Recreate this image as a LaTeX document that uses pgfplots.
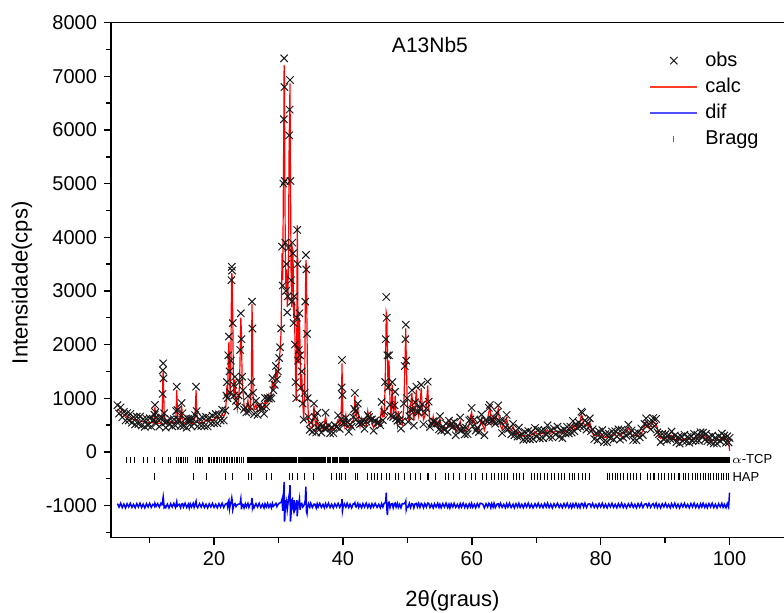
\documentclass[border=0pt]{standalone}
\usepackage{fontspec}
\setmainfont{Liberation Sans}
\usepackage{pgfplots}
\usepackage{pgfplotstable}
\pgfplotsset{compat=1.18}
\pgfplotsset{
  legmark/.style={legend image code/.code={\path[draw=none,fill=none] (0pt,-2pt) rectangle (23pt,2pt); \draw[##1] plot coordinates {(11.5pt,0pt)};}},
}

\pgfplotstableread{
x obs calc dif
5.00 870 800 -965
5.25 715 775 -1030
5.50 830 745 -958
5.75 645 720 -1038
6.00 745 695 -975
6.25 585 675 -1045
6.50 722 657 -968
6.75 585 640 -1028
7.00 707 627 -960
7.25 545 615 -1035
7.50 649 604 -978
7.75 510 595 -1042
8.00 657 587 -965
8.25 520 580 -1030
8.50 658 573 -958
8.75 492 567 -1038
9.00 612 562 -975
9.25 467 557 -1045
9.50 618 553 -968
9.75 494 549 -1028
10.00 626 546 -960
10.25 473 543 -1035
10.50 585 540 -978
10.65 600 560 -985
10.75 690 720 -1010
10.82 874 840 -960
10.90 735 700 -985
11.00 530 560 -1015
11.25 604 534 -965
11.50 472 532 -1030
11.75 615 530 -958
11.90 640 600 -985
12.00 1080 1000 -950
12.05 1520 1380 -880
12.10 1650 1500 -840
12.15 1370 1250 -900
12.25 720 760 -1040
12.40 545 570 -1015
12.50 452 527 -1038
12.75 576 526 -975
13.00 510 600 -1045
13.25 610 545 -968
13.50 475 530 -1028
13.75 608 528 -960
14.00 490 560 -1035
14.10 760 720 -985
14.20 1215 1150 -930
14.30 780 800 -1010
14.40 600 580 -995
14.60 590 545 -978
14.80 485 570 -1042
14.95 910 880 -975
15.10 720 650 -965
15.25 480 540 -1030
15.50 612 527 -958
15.75 450 525 -1038
16.00 610 560 -975
16.15 560 650 -1045
16.30 610 545 -968
16.50 473 528 -1028
16.75 612 532 -960
16.90 530 600 -1035
17.05 685 640 -978
17.20 1215 1150 -920
17.30 760 790 -1015
17.45 475 560 -1042
17.75 610 540 -965
18.00 485 545 -1030
18.25 635 550 -958
18.50 481 556 -1038
18.75 650 600 -975
19.00 475 565 -1045
19.25 640 575 -968
19.50 530 585 -1028
19.75 675 595 -960
20.00 535 605 -1035
20.25 705 660 -978
20.50 535 620 -1042
20.75 700 630 -965
21.00 585 645 -1030
21.25 785 700 -958
21.50 585 660 -1038
21.75 770 720 -975
21.90 1050 980 -965
22.00 1300 1250 -960
22.10 1000 1050 -1020
22.20 1800 1700 -930
22.30 2150 2050 -900
22.40 1500 1600 -1060
22.50 1100 1050 -985
22.60 1700 1600 -950
22.70 3200 3100 -900
22.75 3450 3330 -860
22.80 3380 3280 -900
22.90 2400 2500 -1080
23.00 1250 1300 -1030
23.10 1050 1000 -980
23.25 1400 1350 -965
23.40 950 1000 -1020
23.60 850 800 -985
23.80 1050 1000 -975
23.95 1300 1250 -970
24.05 1900 1850 -960
24.15 2583 2500 -880
24.25 2100 2200 -1070
24.35 1400 1350 -975
24.50 1150 1100 -980
24.65 790 880 -1045
24.85 825 760 -968
25.00 735 790 -1028
25.25 1040 960 -960
25.40 750 820 -1035
25.60 835 790 -978
25.78 1300 1250 -970
25.88 2800 2760 -860
25.95 2300 2350 -1040
26.05 1100 1050 -985
26.20 705 790 -1042
26.50 950 880 -965
26.75 690 750 -1030
27.00 855 770 -958
27.25 805 880 -1038
27.50 830 780 -975
27.75 710 800 -1045
27.90 1005 940 -968
28.10 845 900 -1028
28.30 1000 920 -960
28.50 990 1060 -1035
28.70 1015 970 -978
28.90 995 1080 -1042
29.05 1375 1330 -960
29.20 1150 1180 -1015
29.40 1250 1220 -990
29.60 1600 1550 -960
29.75 1350 1380 -1020
29.90 1500 1460 -985
30.10 1750 1700 -960
30.25 1950 1900 -950
30.40 2300 2250 -940
30.55 3825 3700 -880
30.65 3100 3200 -1100
30.75 5000 4900 -800
30.82 6200 6100 -700
30.87 7336 7212 -560
30.92 6800 6950 -1300
30.98 5050 5200 -1250
31.05 3900 3800 -900
31.15 3000 3050 -1050
31.25 3500 3400 -950
31.35 2600 2700 -1080
31.45 2900 2850 -980
31.55 3800 3700 -880
31.65 5900 5800 -800
31.72 6380 6300 -750
31.78 6932 6870 -620
31.85 5050 5200 -1300
31.95 3200 3350 -1150
32.05 2800 2700 -900
32.15 3900 3800 -880
32.25 3700 3750 -1050
32.35 2400 2500 -1100
32.45 2900 2800 -900
32.55 2000 2100 -1080
32.65 1300 1400 -1050
32.75 1000 950 -980
32.85 2500 2400 -900
32.90 4136 4220 -1200
32.97 3500 3600 -1100
33.05 1700 1650 -950
33.15 1900 1850 -960
33.25 2583 2500 -880
33.35 1800 1900 -1080
33.45 1200 1150 -970
33.60 1500 1450 -960
33.75 900 950 -1030
33.90 600 620 -1010
34.05 1100 1050 -960
34.15 2800 2700 -900
34.25 3670 3580 -650
34.32 3400 3450 -1100
34.42 2200 2300 -1150
34.52 1000 1050 -1020
34.65 650 580 -965
34.85 410 470 -1030
35.00 545 460 -958
35.25 375 450 -1038
35.50 900 860 -975
35.65 650 600 -975
35.85 360 450 -1045
36.00 725 660 -968
36.15 445 500 -1028
36.40 500 420 -960
36.65 360 430 -1035
36.90 485 440 -978
37.10 435 520 -1042
37.30 730 660 -965
37.50 440 500 -1030
37.75 495 410 -958
38.00 345 420 -1038
38.25 460 410 -975
38.50 350 440 -1045
38.75 495 430 -968
39.00 465 520 -1028
39.25 680 600 -960
39.50 430 500 -1035
39.70 605 560 -978
39.80 1200 1150 -960
39.85 1713 1650 -880
39.92 1060 1120 -1100
40.00 535 620 -1042
40.20 550 480 -965
40.45 630 690 -1030
40.65 555 470 -958
40.90 375 450 -1038
41.10 510 460 -975
41.35 470 560 -1045
41.60 645 580 -968
41.75 800 760 -975
41.85 1100 1050 -950
41.95 760 800 -1020
42.05 605 660 -1028
42.30 900 820 -960
42.45 550 620 -1035
42.65 515 470 -978
42.90 535 620 -1042
43.10 580 510 -965
43.35 430 490 -1030
43.60 565 480 -958
43.85 685 760 -1038
44.05 650 600 -975
44.30 600 690 -1045
44.50 605 540 -968
44.75 395 450 -1028
45.00 580 500 -960
45.30 540 610 -1035
45.55 545 500 -978
45.80 495 580 -1042
46.00 930 860 -965
46.20 590 650 -1030
46.40 745 660 -958
46.55 1300 1250 -950
46.65 2100 2000 -900
46.72 2887 2600 -760
46.80 2500 2550 -1050
46.90 1800 1900 -1180
47.00 1200 1150 -960
47.15 1800 1700 -940
47.30 875 950 -1038
47.45 670 620 -975
47.65 1300 1250 -965
47.80 650 740 -1045
48.00 865 800 -968
48.10 1120 1050 -955
48.25 625 680 -1028
48.45 580 500 -960
48.60 690 760 -1035
48.80 595 550 -978
49.00 435 520 -1042
49.20 570 500 -965
49.45 900 850 -970
49.60 1600 1550 -950
49.70 2100 2050 -940
49.75 2370 2300 -920
49.82 1700 1800 -1080
49.95 1000 1050 -1020
50.10 560 620 -1030
50.30 665 580 -958
50.50 785 860 -1038
50.70 1150 1100 -965
50.85 790 740 -975
51.00 490 580 -1045
51.20 925 860 -968
51.40 1216 1160 -960
51.55 745 800 -1028
51.75 740 660 -960
51.95 810 880 -1035
52.15 1250 1190 -960
52.30 885 840 -978
52.50 515 600 -1042
52.70 730 660 -965
52.95 810 870 -1030
53.15 1308 1240 -955
53.30 935 850 -958
53.50 465 540 -1038
53.75 530 480 -975
54.00 570 660 -1045
54.20 565 500 -968
54.45 525 580 -1028
54.70 530 450 -960
54.90 420 490 -1035
55.05 665 620 -978
55.25 395 480 -1042
55.50 470 400 -965
55.75 410 470 -1030
56.00 525 440 -958
56.25 375 450 -1038
56.45 580 530 -975
56.60 490 580 -1045
56.80 525 460 -968
57.05 465 520 -1028
57.25 560 480 -960
57.50 310 380 -1035
57.75 475 430 -978
58.00 415 500 -1042
58.20 640 570 -965
58.40 400 460 -1030
58.65 445 360 -958
58.90 325 400 -1038
59.10 450 400 -975
59.35 330 420 -1045
59.60 585 520 -968
59.80 605 660 -1028
59.97 820 740 -960
60.15 480 550 -1035
60.40 605 560 -978
60.60 395 480 -1042
60.85 450 380 -965
61.10 370 430 -1030
61.30 585 500 -958
61.50 695 620 -962
61.70 550 500 -975
61.95 310 400 -1045
62.20 585 520 -968
62.45 565 620 -1028
62.65 820 740 -960
62.80 875 830 -978
62.95 565 650 -1042
63.10 590 520 -965
63.30 600 660 -1030
63.45 635 550 -958
63.65 525 600 -1038
63.90 730 680 -975
64.10 865 800 -968
64.25 575 630 -1028
64.45 560 480 -960
64.70 350 420 -1035
64.95 575 530 -978
65.20 455 540 -1042
65.40 690 620 -965
65.60 420 480 -1030
65.85 445 360 -958
66.10 325 400 -1038
66.40 520 470 -975
66.60 310 400 -1045
66.85 385 320 -968
67.10 285 340 -1028
67.30 450 370 -960
67.50 290 360 -1035
67.75 335 290 -978
68.00 225 310 -1042
68.25 370 300 -965
68.50 235 295 -1030
68.75 390 305 -958
69.00 235 310 -1038
69.25 365 315 -975
69.50 240 330 -1045
69.80 445 380 -968
70.05 285 340 -1028
70.30 410 330 -960
70.55 250 320 -1035
70.80 395 350 -978
71.05 255 340 -1042
71.30 400 330 -965
71.55 330 390 -1030
71.75 495 410 -958
72.00 265 340 -1038
72.25 400 350 -975
72.50 270 360 -1045
72.75 435 370 -968
73.00 325 380 -1028
73.30 470 390 -960
73.55 280 350 -1035
73.80 395 350 -978
74.05 255 340 -1042
74.30 420 350 -965
74.55 340 400 -1030
74.80 465 380 -958
75.05 345 420 -1038
75.30 470 420 -975
75.50 360 450 -1045
75.70 575 510 -968
75.90 385 440 -1028
76.15 510 430 -960
76.40 440 510 -1035
76.60 545 500 -978
76.80 475 560 -1042
77.00 750 690 -960
77.15 730 660 -965
77.35 470 530 -1030
77.55 585 500 -958
77.80 415 490 -1038
78.05 530 480 -975
78.30 625 560 -968
78.50 385 440 -1028
78.75 420 340 -960
79.00 240 310 -1035
79.25 345 300 -978
79.50 215 300 -1042
79.75 380 310 -965
80.00 290 350 -1030
80.25 405 320 -958
80.50 185 260 -1038
80.75 330 280 -975
81.00 180 270 -1045
81.25 340 275 -968
81.50 255 310 -1028
81.75 380 300 -960
82.00 230 300 -1035
82.25 385 340 -978
82.50 285 370 -1042
82.75 420 350 -965
83.00 230 290 -1030
83.25 415 330 -958
83.50 265 340 -1038
83.75 400 350 -975
84.00 300 390 -1045
84.30 505 440 -968
84.55 345 400 -1028
84.80 400 320 -960
85.05 220 290 -1035
85.30 345 300 -978
85.55 215 300 -1042
85.80 360 290 -965
86.05 270 330 -1030
86.30 435 350 -958
86.55 315 390 -1038
86.80 520 470 -975
87.05 625 560 -968
87.25 485 540 -1028
87.50 520 440 -960
87.75 420 490 -1035
88.00 575 530 -978
88.15 630 560 -965
88.35 480 540 -1030
88.60 615 530 -958
88.80 365 440 -1038
89.05 330 280 -975
89.30 185 250 -1045
89.55 335 270 -968
89.80 230 260 -1028
90.05 330 250 -960
90.30 215 260 -1035
90.55 315 270 -978
90.80 240 300 -1042
91.00 380 310 -965
91.25 245 280 -1030
91.50 305 220 -958
91.75 180 230 -1038
92.00 275 225 -975
92.25 155 220 -1045
92.50 290 225 -968
92.75 200 230 -1028
93.00 320 240 -960
93.25 195 240 -1035
93.50 280 235 -978
93.75 170 230 -1042
94.00 295 225 -965
94.25 205 240 -1030
94.50 335 250 -958
94.75 210 260 -1038
95.00 320 270 -975
95.25 205 270 -1045
95.50 365 300 -968
95.70 280 310 -1028
95.90 360 280 -960
96.15 225 270 -1035
96.35 335 290 -978
96.55 200 260 -1042
96.80 280 210 -965
97.05 185 220 -1030
97.30 300 215 -958
97.55 160 210 -1038
97.80 265 215 -975
98.05 155 220 -1045
98.30 290 225 -968
98.55 200 230 -1028
98.80 340 260 -960
99.00 235 280 -1035
99.20 305 260 -978
99.45 170 230 -1042
99.65 290 220 -965
99.85 175 210 -1030
100.00 260 20 -760
}\xrd

\definecolor{legblue}{RGB}{80,80,255}
\definecolor{legred}{RGB}{255,60,40}

\begin{document}
\begin{tikzpicture}
\begin{axis}[
  name=ax,
  scale only axis,
  width=341.5pt, height=257.5pt,
  xmin=4, xmax=110, ymin=-1600, ymax=8000,
  xtick={20,40,60,80,100},
  minor xtick={10,30,50,70,90},
  ytick={-1000,0,1000,...,8000},
  minor ytick={-1500,-500,500,...,7500},
  tick align=outside,
  xtick pos=left, ytick pos=left,
  major tick length=3.5pt, minor tick length=2.5pt,
  every tick/.style={line width=0.7pt, black},
  axis line style={line width=0.7pt},
  scaled y ticks=false,
  /pgf/number format/1000 sep={},
  /pgf/number format/assume math mode=true,
  tick label style={font=\fontsize{10}{12}\selectfont},
  xlabel={2θ(graus)}, ylabel={Intensidade(cps)},
  label style={font=\fontsize{11}{13}\selectfont},
  xlabel style={at={(axis description cs:0.5,0)}, anchor=center, yshift=-31.6pt},
  ylabel style={at={(axis description cs:-0.1303,0.495)}, anchor=center},
  legend style={draw=none, fill=none, at={(axis cs:87.66,7519)}, anchor=north west,
    font=\fontsize{10}{12}\selectfont, row sep=1.4pt, column sep=2.5pt, inner sep=0pt,
    nodes={inner sep=1.5pt}},
  legend cell align=left,
]
\addplot[forget plot, only marks, mark=x, mark size=2.6pt, mark options={line width=0.5pt, draw=black!90}]
  table[x=x, y=obs]{\xrd};
\addplot[forget plot, red, line width=0.6pt, mark=none]
  table[x=x, y=calc]{\xrd};
\addplot[forget plot, blue, line width=0.75pt, mark=none]
  table[x=x, y=dif]{\xrd};
% alpha-TCP reflections (low angle)
\addplot[forget plot, only marks, mark=|, mark size=1.6pt, mark options={line width=0.5pt, draw=black}]
  coordinates {(6.43,-150) (7.05,-150) (7.7,-150) (9.1,-150) (9.6,-150) (10.7,-150) (11.95,-150) (12.9,-150) (13.3,-150) (14.1,-150) (14.4,-150) (14.8,-150) (15.0,-150) (15.3,-150) (15.55,-150) (15.8,-150) (17.1,-150) (17.4,-150) (17.7,-150) (17.9,-150) (18.2,-150) (19.1,-150) (19.35,-150) (19.6,-150) (19.85,-150) (20.1,-150) (20.4,-150) (20.6,-150) (20.9,-150) (21.1,-150) (21.4,-150) (21.65,-150) (21.9,-150) (22.1,-150) (22.4,-150) (22.7,-150) (22.9,-150) (23.2,-150) (23.45,-150) (23.7,-150) (23.95,-150) (24.2,-150) (24.5,-150)};
% alpha-TCP reflections (dense)
\addplot[forget plot, only marks, mark=|, mark size=1.6pt, mark options={line width=1.2pt, draw=black}]
  coordinates {(25.25,-150) (25.5,-150) (25.75,-150) (26,-150) (26.25,-150) (26.5,-150) (26.75,-150) (27,-150) (27.25,-150) (27.5,-150) (27.75,-150) (28,-150) (28.25,-150) (28.5,-150) (28.75,-150) (29.25,-150) (29.5,-150) (29.75,-150) (30,-150) (30.25,-150) (30.5,-150) (30.75,-150) (31,-150) (31.25,-150) (31.5,-150) (31.75,-150) (32,-150) (32.25,-150) (32.5,-150) (32.75,-150) (33.25,-150) (33.75,-150) (34,-150) (34.25,-150) (34.5,-150) (34.75,-150) (35,-150) (35.25,-150) (35.75,-150) (36,-150) (36.25,-150) (36.5,-150) (36.75,-150) (37,-150) (37.25,-150) (37.75,-150) (38,-150) (38.5,-150) (38.75,-150) (39,-150) (39.5,-150) (39.75,-150) (40,-150) (40.25,-150) (40.5,-150) (40.75,-150) (41.25,-150) (41.5,-150) (41.75,-150)};
\addplot[forget plot, only marks, mark=|, mark size=1.6pt, mark options={line width=1.7pt, draw=black}]
  coordinates {(42,-150) (42.5,-150) (43,-150) (43.5,-150) (44,-150) (44.5,-150) (45,-150) (45.5,-150) (46,-150) (46.5,-150) (47,-150) (47.5,-150) (48,-150) (48.5,-150) (49,-150) (49.5,-150) (50,-150) (50.5,-150) (51,-150) (51.5,-150) (52,-150) (52.5,-150) (53,-150) (53.5,-150) (54,-150) (54.5,-150) (55,-150) (55.5,-150) (56,-150) (56.5,-150) (57,-150) (57.5,-150) (58,-150) (58.5,-150) (59,-150) (59.5,-150) (60,-150) (60.5,-150) (61,-150) (61.5,-150) (62,-150) (62.5,-150) (63,-150) (63.5,-150) (64,-150) (64.5,-150) (65,-150) (65.5,-150) (66,-150) (66.5,-150) (67,-150) (67.5,-150) (68,-150) (68.5,-150) (69,-150) (69.5,-150) (70,-150) (70.5,-150) (71,-150) (71.5,-150) (72,-150) (72.5,-150) (73,-150) (73.5,-150) (74,-150) (74.5,-150) (75,-150) (75.5,-150) (76,-150) (76.5,-150) (77,-150) (77.5,-150) (78,-150) (78.5,-150) (79,-150) (79.5,-150) (80,-150) (80.5,-150) (81,-150) (81.5,-150) (82,-150) (82.5,-150) (83,-150) (83.5,-150) (84,-150) (84.5,-150) (85,-150) (85.5,-150) (86,-150) (86.5,-150) (87,-150) (87.5,-150) (88,-150) (88.5,-150) (89,-150) (89.5,-150) (90,-150) (90.5,-150) (91,-150) (91.5,-150) (92,-150) (92.5,-150) (93,-150) (93.5,-150) (94,-150) (94.5,-150) (95,-150) (95.5,-150) (96,-150) (96.5,-150) (97,-150) (97.5,-150) (98,-150) (98.5,-150) (99,-150) (99.5,-150) (99.8,-150)};
% HAP reflections
\addplot[forget plot, only marks, mark=|, mark size=1.7pt, mark options={line width=0.5pt, draw=black}]
  coordinates {(10.82,-460) (16.84,-460) (18.78,-460) (21.82,-460) (22.90,-460) (25.35,-460) (25.88,-460) (28.13,-460) (28.97,-460) (31.77,-460) (32.20,-460) (32.90,-460) (34.05,-460) (35.48,-460) (38.2,-460) (39.0,-460) (39.5,-460) (39.82,-460) (40.45,-460) (41.9,-460) (42.3,-460) (43.8,-460) (44.4,-460) (44.9,-460) (45.3,-460) (46.0,-460) (46.7,-460) (47.15,-460) (48.1,-460) (48.6,-460) (49.5,-460) (50.5,-460) (51.3,-460) (52.1,-460) (53.1,-460) (53.3,-460) (54.4,-460) (55.9,-460) (56.4,-460) (57.1,-460) (58.1,-460) (59.0,-460) (59.9,-460) (60.5,-460) (61.7,-460) (62.3,-460) (63.0,-460) (63.5,-460) (64.1,-460) (64.6,-460) (65.0,-460) (65.5,-460) (66.4,-460) (67.0,-460) (67.4,-460) (68.0,-460) (69.2,-460) (69.7,-460) (70.2,-460) (70.7,-460) (71.3,-460) (71.7,-460) (72.3,-460) (72.9,-460) (73.4,-460) (73.9,-460) (74.4,-460) (75.1,-460) (75.6,-460) (76.0,-460) (76.6,-460) (77.2,-460) (77.6,-460) (78.2,-460) (81.0,-460) (81.4,-460) (81.9,-460) (82.3,-460) (82.6,-460) (83.0,-460) (83.5,-460) (84.1,-460) (84.6,-460) (85.1,-460) (85.6,-460) (86.1,-460) (87.3,-460) (87.7,-460) (88.2,-460) (88.4,-460) (89.0,-460) (89.5,-460) (89.9,-460) (90.5,-460) (91.0,-460) (91.5,-460) (92.0,-460) (92.3,-460) (92.8,-460) (93.2,-460) (93.6,-460) (94.2,-460) (94.7,-460) (95.1,-460) (95.5,-460) (95.9,-460) (96.3,-460) (96.7,-460) (97.1,-460) (97.5,-460) (97.9,-460) (98.3,-460) (98.7,-460) (99.1,-460) (99.5,-460) (99.9,-460)};
% legend
\addlegendimage{only marks, mark=x, mark size=2.6pt, mark options={line width=0.5pt, draw=black!90}, legmark}
\addlegendentry{obs}
\addlegendimage{legend image code/.code={\fill[legred] (0pt,-0.33pt) rectangle (23pt,0.33pt);}}
\addlegendentry{calc}
\addlegendimage{legend image code/.code={\fill[legblue] (0pt,-0.33pt) rectangle (23pt,0.33pt);}}
\addlegendentry{dif}
\addlegendimage{only marks, mark=|, mark size=1.6pt, mark options={line width=0.5pt, draw=black!60}, legmark}
\addlegendentry{Bragg}
\node[font=\fontsize{10.5}{12}\selectfont] at (axis cs:53.5,7585) {A13Nb5};
\node[anchor=west, inner sep=0pt, font=\fontsize{6.5}{8}\selectfont] at (axis cs:100.35,-135) {$\alpha$-TCP};
\node[anchor=west, inner sep=0pt, font=\fontsize{6.5}{8}\selectfont] at (axis cs:100.4,-462) {HAP};
\end{axis}
\pgfresetboundingbox
\path[use as bounding box] ([shift={(-55.5pt,-37.65pt)}]ax.south west) rectangle ([shift={(336.5pt,268.85pt)}]ax.south west);
\end{tikzpicture}
\end{document}
